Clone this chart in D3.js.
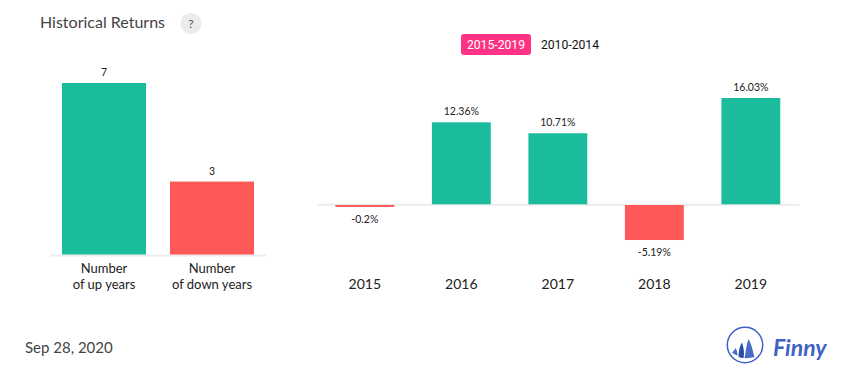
<!DOCTYPE html>
<html>
<head>
<meta charset="utf-8">
<script src="https://d3js.org/d3.v7.min.js"></script>
<style>
  html, body { margin: 0; padding: 0; background: #fff; }
  svg { display: block; font-family: Lato, sans-serif; }
  .axis .domain { stroke: #ededed; stroke-width: 2px; }
  .axis line { display: none; }
  .axis text { fill: #222; font-family: Lato, sans-serif; }
</style>
</head>
<body>
<div class="container"></div>
<script>
const WIDTH = 855;
const HEIGHT = 382;

const GREEN = '#1abc9c';
const RED = '#ff5858';

// left chart
const countLabels = [['Number', 'of up years'], ['Number', 'of down years']];
const countValues = [7, 3];

// right chart
const years = ['2015', '2016', '2017', '2018', '2019'];
const returns = [-0.2, 12.36, 10.71, -5.19, 16.03];

var svg = d3.select('.container').append('svg')
  .attr('width', WIDTH)
  .attr('height', HEIGHT);

// title
svg.append('text')
  .attr('x', 40).attr('y', 28)
  .attr('font-size', 16)
  .attr('fill', '#444')
  .text('Historical Returns');

svg.append('circle')
  .attr('cx', 191).attr('cy', 23.5).attr('r', 10.5)
  .attr('fill', '#ebebeb');
svg.append('text')
  .attr('x', 191).attr('y', 28)
  .attr('text-anchor', 'middle')
  .attr('font-size', 12)
  .attr('fill', '#555')
  .text('?');

// period switch
svg.append('rect')
  .attr('x', 461).attr('y', 34)
  .attr('width', 70).attr('height', 21).attr('rx', 3)
  .attr('fill', '#ff3385');
svg.append('text')
  .attr('x', 496).attr('y', 49)
  .attr('text-anchor', 'middle')
  .attr('font-family', 'Roboto, sans-serif')
  .attr('font-size', 12.2)
  .attr('fill', '#fff')
  .text('2015-2019');
svg.append('text')
  .attr('x', 570).attr('y', 49)
  .attr('text-anchor', 'middle')
  .attr('font-family', 'Roboto, sans-serif')
  .attr('font-size', 12.2)
  .attr('fill', '#111')
  .text('2010-2014');

// left chart: number of up and down years
var xCount = d3.scaleBand()
  .domain(countLabels.map(function (d, i) { return i; }))
  .range([50, 266])
  .paddingInner(0.222)
  .paddingOuter(0.111);

var yCount = d3.scaleLinear().domain([0, 7]).range([255.5, 83]);

svg.selectAll('.count-bar')
  .data(countValues)
  .enter().append('rect')
  .attr('class', 'count-bar')
  .attr('x', function (d, i) { return xCount(i); })
  .attr('y', function (d) { return yCount(d); })
  .attr('width', xCount.bandwidth())
  .attr('height', function (d) { return yCount(0) - yCount(d); })
  .attr('fill', function (d, i) { return i === 0 ? GREEN : RED; });

svg.selectAll('.count-label')
  .data(countValues)
  .enter().append('text')
  .attr('class', 'count-label')
  .attr('x', function (d, i) { return xCount(i) + xCount.bandwidth() / 2; })
  .attr('y', function (d) { return yCount(d) - 7; })
  .attr('text-anchor', 'middle')
  .attr('font-size', 10.5)
  .attr('fill', '#222')
  .text(function (d) { return d; });

var countAxis = svg.append('g')
  .attr('class', 'axis')
  .attr('transform', 'translate(0,255)')
  .call(d3.axisBottom(xCount).tickSize(0).tickSizeOuter(0).tickFormat(''));

countAxis.selectAll('.tick text').each(function (i) {
  var t = d3.select(this).attr('font-size', 13).attr('dy', 0).attr('y', 0);
  countLabels[i].forEach(function (line, n) {
    t.append('tspan')
      .attr('x', 0)
      .attr('y', 18 + n * 16)
      .text(line);
  });
});

// right chart: calendar year returns
var xYear = d3.scaleBand()
  .domain(years)
  .range([316.6, 799.1])
  .paddingInner(0.39)
  .paddingOuter(0.195);

var yReturn = d3.scaleLinear().domain([0, 16.03]).range([204.3, 98]);

svg.selectAll('.return-bar')
  .data(returns)
  .enter().append('rect')
  .attr('class', 'return-bar')
  .attr('x', function (d, i) { return xYear(years[i]); })
  .attr('y', function (d) { return d > 0 ? yReturn(d) : yReturn(0) + 0.7; })
  .attr('width', xYear.bandwidth())
  .attr('height', function (d) { return Math.abs(yReturn(d) - yReturn(0)) + (d > 0 ? 0 : 0.6); })
  .attr('fill', function (d) { return d > 0 ? GREEN : RED; });

svg.selectAll('.return-label')
  .data(returns)
  .enter().append('text')
  .attr('class', 'return-label')
  .attr('x', function (d, i) { return xYear(years[i]) + xYear.bandwidth() / 2; })
  .attr('y', function (d) { return d > 0 ? yReturn(d) - 7 : yReturn(d) + 17; })
  .attr('text-anchor', 'middle')
  .attr('font-size', 10.5)
  .attr('fill', '#222')
  .text(function (d) { return d + '%'; });

var yearAxis = d3.axisBottom(xYear).tickSize(0).tickSizeOuter(0);

var yearAxisG = svg.append('g')
  .attr('class', 'axis')
  .attr('transform', 'translate(0,' + yReturn(0) + ')')
  .call(yearAxis);

yearAxisG.selectAll('.tick text')
  .attr('y', 85)
  .attr('dy', 0)
  .attr('font-size', 14);

// keep the axis line behind the bars
yearAxisG.lower();

// footer
svg.append('text')
  .attr('x', 25).attr('y', 353)
  .attr('font-size', 15)
  .attr('fill', '#444')
  .text('Sep 28, 2020');

// logo
var logo = svg.append('g').attr('transform', 'translate(745,345)');
logo.append('circle')
  .attr('r', 17.7)
  .attr('fill', 'none')
  .attr('stroke', '#3f62c4')
  .attr('stroke-width', 1.5);
logo.append('path')
  .attr('d', 'M3.5,-6 C7,0 8,7 9.5,12 C6,13 2,13.5 -0.5,13 C1,7 1,0 3.5,-6 Z')
  .attr('fill', '#4a6cc8');
logo.append('path')
  .attr('d', 'M-3,-2.5 C-1,3 -0.5,9 -1.5,13 C-3,13 -5,12.5 -6.5,11.5 C-6,7 -6,2 -3,-2.5 Z')
  .attr('fill', '#2a4aa8');
logo.append('path')
  .attr('d', 'M-9.5,3 C-8,5 -7.5,8 -7.5,10.5 C-9,10 -11,9 -13,7.5 C-12,6.5 -10.5,5 -9.5,3 Z')
  .attr('fill', '#4a6cc8');
svg.append('text')
  .attr('x', 773).attr('y', 356)
  .attr('font-family', 'Lato, sans-serif')
  .attr('font-style', 'italic')
  .attr('font-weight', 700)
  .attr('font-size', 23)
  .attr('fill', '#3f62c4')
  .text('Finny');
</script>
</body>
</html>
